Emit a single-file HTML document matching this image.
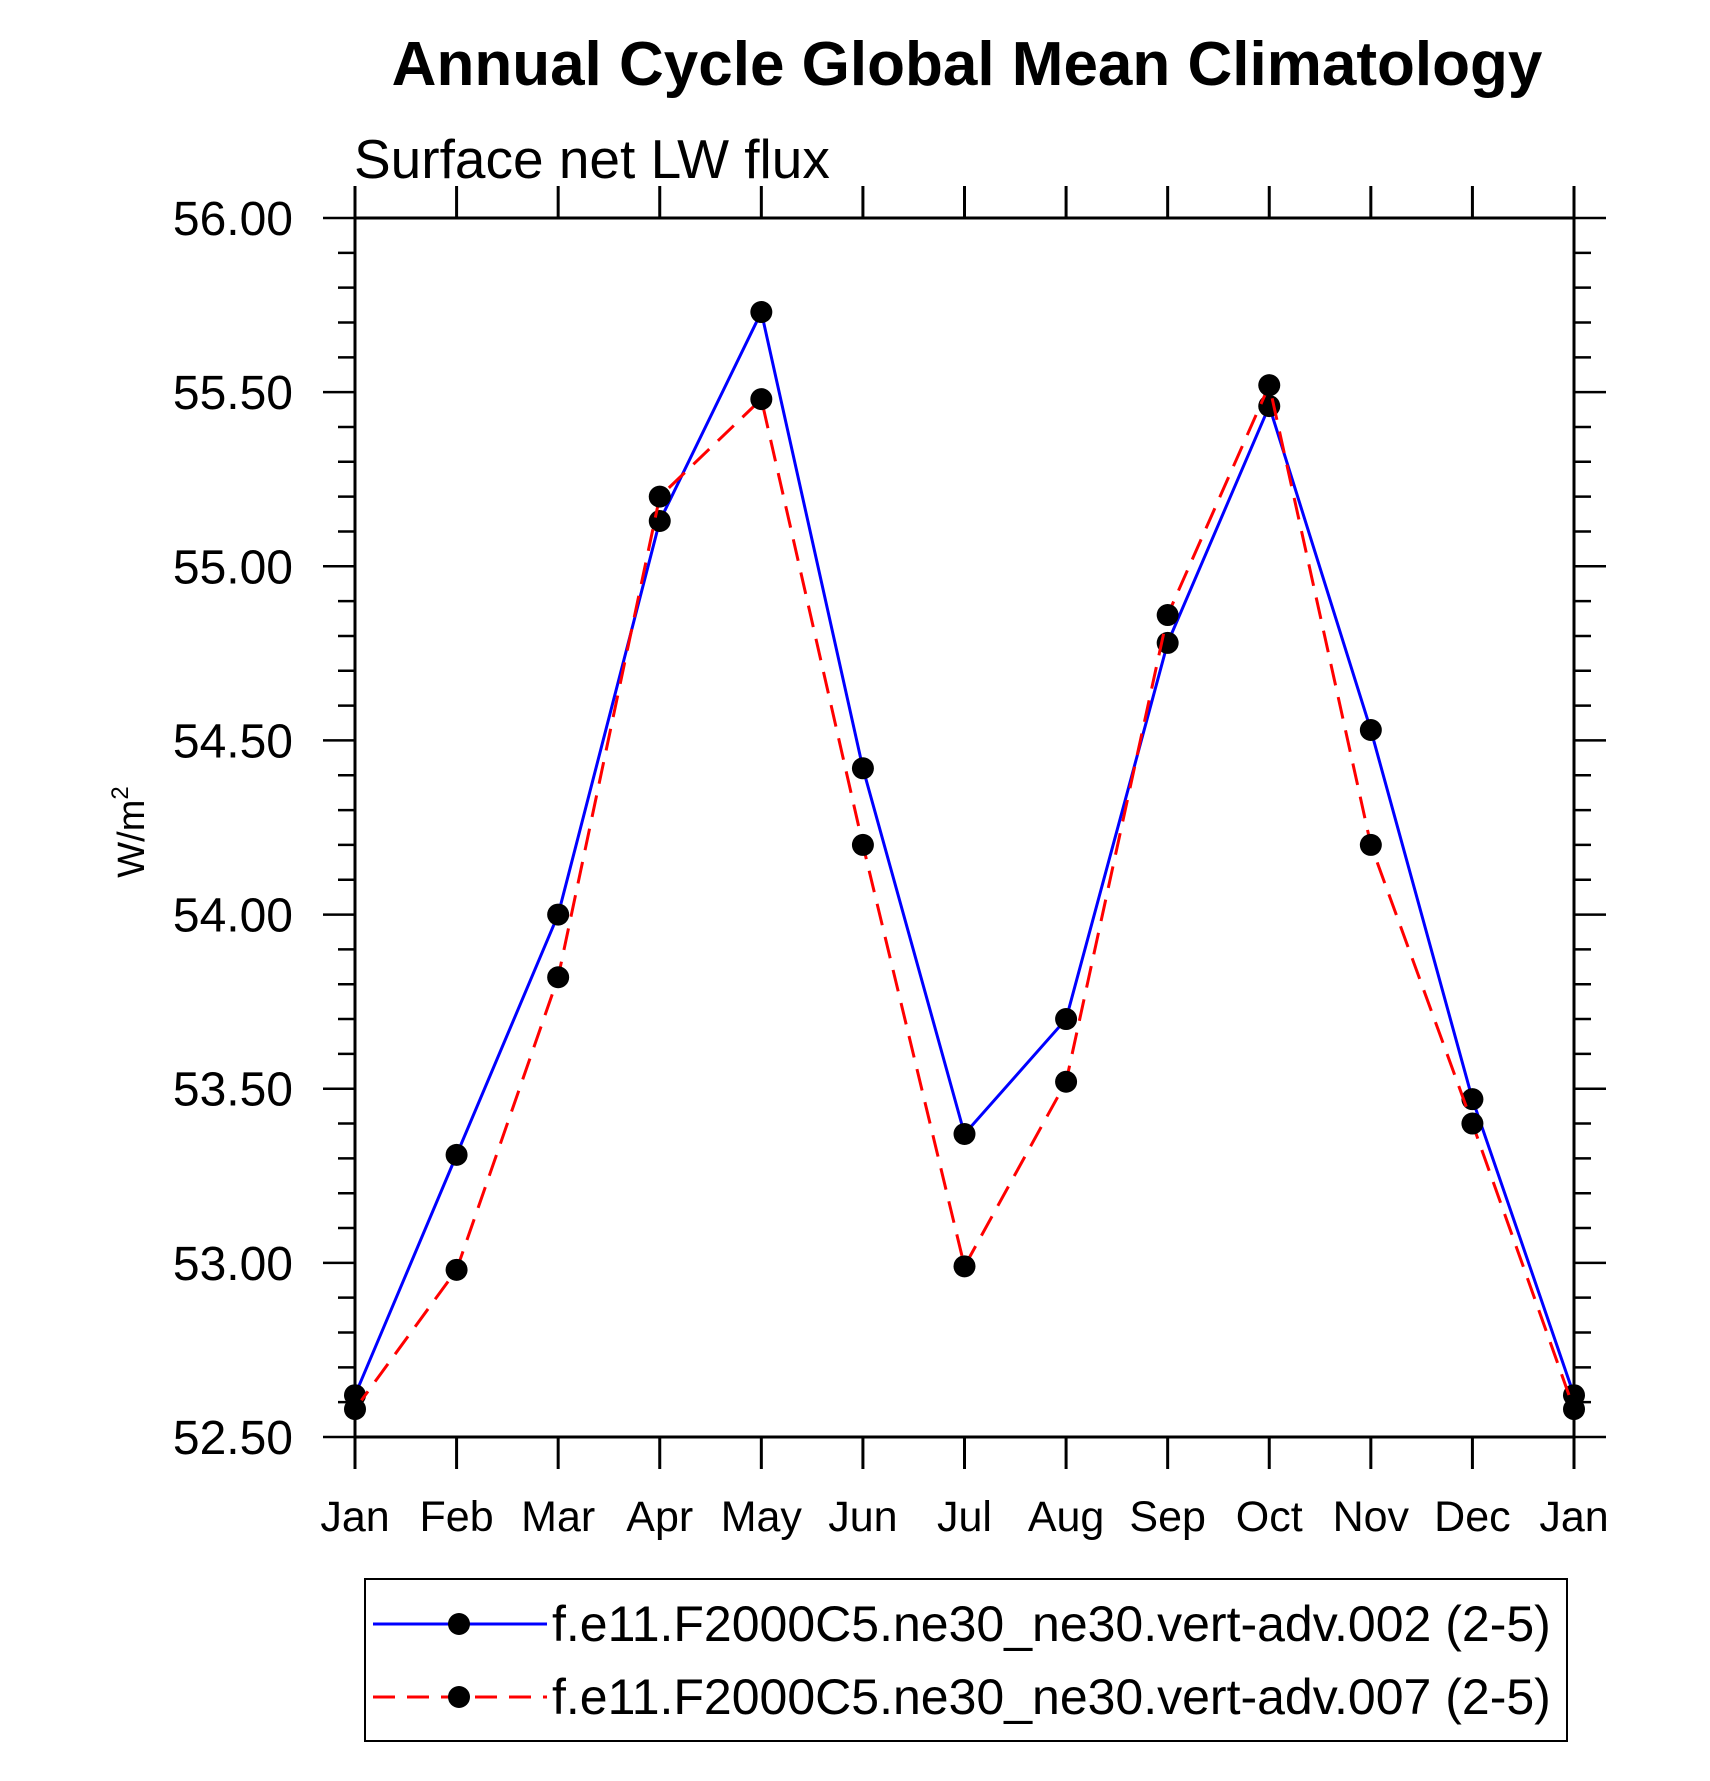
<!DOCTYPE html>
<html><head><meta charset="utf-8"><style>
html,body{margin:0;padding:0;background:#fff;}
svg{display:block;font-family:"Liberation Sans",sans-serif;}
</style></head><body>
<svg id="chart" width="1710" height="1781" viewBox="0 0 1710 1781" xmlns="http://www.w3.org/2000/svg">
<text x="967" y="85" font-size="62" font-weight="bold" text-anchor="middle">Annual Cycle Global Mean Climatology</text>
<text x="354" y="178" font-size="55">Surface net LW flux</text>
<text transform="translate(144,832) rotate(-90)" font-size="38" text-anchor="middle">W/m<tspan dy="-16" font-size="24">2</tspan></text>
<g id="axes"></g>
<g id="series"></g>
<g>
<rect x="365" y="1579" width="1202" height="162" fill="none" stroke="#000" stroke-width="2"/>
<line x1="373" y1="1624" x2="547" y2="1624" stroke="#0000ff" stroke-width="3"/>
<circle cx="459" cy="1624" r="11"/>
<text x="552" y="1641" font-size="50">f.e11.F2000C5.ne30_ne30.vert-adv.002 (2-5)</text>
<line x1="373" y1="1697" x2="547" y2="1697" stroke="#ff0000" stroke-width="3" stroke-dasharray="22 12"/>
<circle cx="459" cy="1697" r="11"/>
<text x="552" y="1714" font-size="50">f.e11.F2000C5.ne30_ne30.vert-adv.007 (2-5)</text>
</g>
</svg>
<script>
const months = ["Jan","Feb","Mar","Apr","May","Jun","Jul","Aug","Sep","Oct","Nov","Dec","Jan"];
const series002 = [52.62,53.31,54.00,55.13,55.73,54.42,53.37,53.70,54.78,55.46,54.53,53.47,52.62];
const series007 = [52.58,52.98,53.82,55.20,55.48,54.20,52.99,53.52,54.86,55.52,54.20,53.40,52.58];
const yTicks = [52.5,53.0,53.5,54.0,54.5,55.0,55.5,56.0];
const yMin = 52.5, yMax = 56.0;
const L=355, R=1574, T=218, B=1437;
const NS="http://www.w3.org/2000/svg";
const xs = i => L + (R-L)*i/(months.length-1);
const ys = v => B - (B-T)*(v-yMin)/(yMax-yMin);
function mk(tag, attrs, parent){const e=document.createElementNS(NS,tag);for(const k in attrs)e.setAttribute(k,attrs[k]);parent.appendChild(e);return e;}
const ax=document.getElementById('axes');
const frame=mk('rect',{x:L,y:T,width:R-L,height:B-T,fill:'none',stroke:'#000','stroke-width':3},ax);


months.forEach((m,i)=>{
  const x=xs(i);
  const t1=mk('line',{x1:x,y1:B,x2:x,y2:B+32,stroke:'#000','stroke-width':3},ax);
  
  
  const t2=mk('line',{x1:x,y1:T,x2:x,y2:T-32,stroke:'#000','stroke-width':3},ax);
  
  
  const lb=mk('text',{x:x,y:1531,'font-size':43,'text-anchor':'middle'},ax);
  lb.textContent=m;
  
  
});
for(let v=yMin; v<=yMax+1e-9; v+=0.1){
  const y=ys(v);
  const major=Math.abs(v*2-Math.round(v*2))<1e-6;
  const len=major?32:17;
  const a=mk('line',{x1:L-len,y1:y,x2:L,y2:y,stroke:'#000','stroke-width':2.5},ax);
  
  
  const b=mk('line',{x1:R,y1:y,x2:R+len,y2:y,stroke:'#000','stroke-width':2.5},ax);
  
  
}
yTicks.forEach(v=>{
  const lb=mk('text',{x:293,y:ys(v)+17,'font-size':48,'text-anchor':'end'},ax);
  lb.textContent=v.toFixed(2);
  
  
});
const sg=document.getElementById('series');
function draw(vals,color,dash,name){
  const pts=vals.map((v,i)=>xs(i)+','+ys(v)).join(' ');
  const pl=mk('polyline',{points:pts,fill:'none',stroke:color,'stroke-width':3},sg);
  if(dash)pl.setAttribute('stroke-dasharray',dash);
  
  
  vals.forEach((v,i)=>{
    const c=mk('circle',{cx:xs(i),cy:ys(v),r:11,fill:'#000'},sg);
    
    
  });
}
draw(series002,'#0000ff',null,'series-002');
draw(series007,'#ff0000','22 12','series-007');
</script>
</body></html>
